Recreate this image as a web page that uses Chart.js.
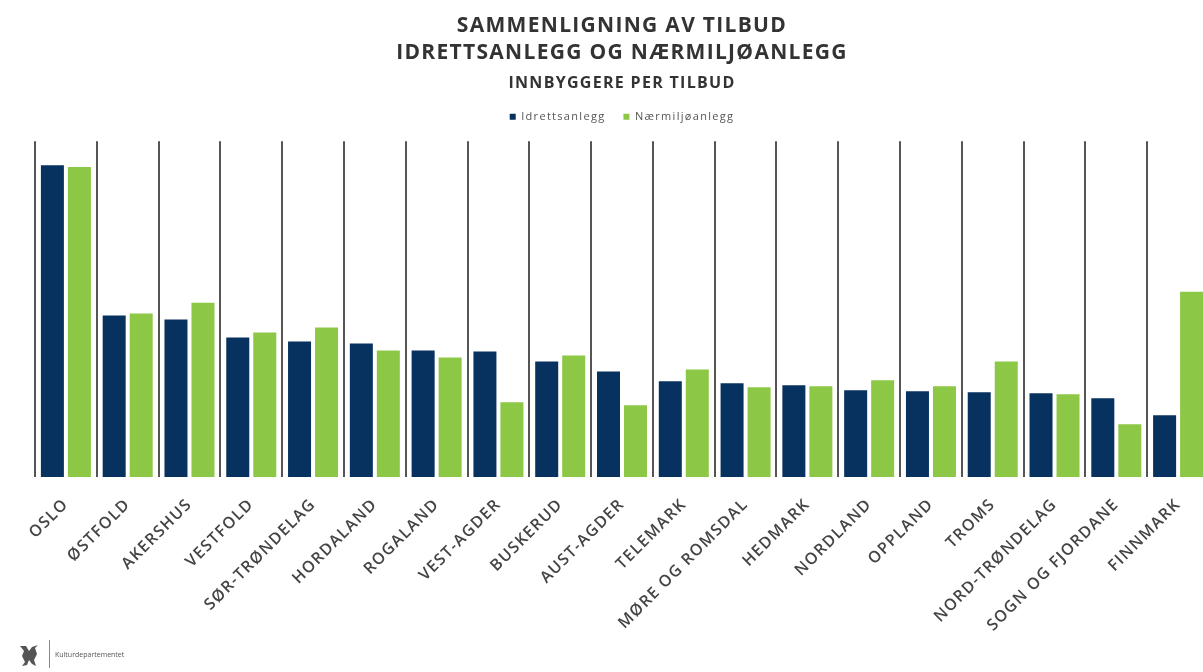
<!DOCTYPE html>
<html>
<head>
<meta charset="utf-8">
<script src="https://cdn.jsdelivr.net/npm/chart.js@4.4.1/dist/chart.umd.min.js"></script>
<style>
    html, body { margin: 0; padding: 0; overflow: hidden; background: #fff; }
    #wrap { position: absolute; left: 0; top: 0; width: 1212px; height: 672px; }
    #logo { position: absolute; left: 16px; top: 640px; height: 28px; font-family: 'Open Sans', sans-serif; }
    #logo .sep { position: absolute; left: 33px; top: 0; width: 1px; height: 28px; background: #888; }
    #logo .name { position: absolute; left: 39px; top: 10px; font-size: 7px; color: #555; white-space: nowrap; }
</style>
</head>
<body>
<div id="wrap"><canvas id="myChart"></canvas></div>
<div id="logo">
    <svg width="26" height="26" viewBox="0 0 26 26" style="position:absolute;left:0;top:2px">
        <path d="M4 4 L8 9 L6 14 L9 20 L6 24 L11 23 L13 18 L16 22 L20 24 L18 18 L21 12 L19 6 L22 3 L16 5 L13 9 L10 4 Z" fill="#555"/>
    </svg>
    <div class="sep"></div>
    <div class="name">Kulturdepartementet</div>
</div>
<script>
// fylker, sorted as in the original slide
const categories = ['OSLO', 'ØSTFOLD', 'AKERSHUS', 'VESTFOLD', 'SØR-TRØNDELAG', 'HORDALAND', 'ROGALAND',
    'VEST-AGDER', 'BUSKERUD', 'AUST-AGDER', 'TELEMARK', 'MØRE OG ROMSDAL', 'HEDMARK', 'NORDLAND',
    'OPPLAND', 'TROMS', 'NORD-TRØNDELAG', 'SOGN OG FJORDANE', 'FINNMARK'];

// innbyggere per tilbud (relative)
const idrettsanlegg = [313, 162, 158, 140, 136, 134, 127, 126, 116, 106, 96, 94, 92, 87, 86, 85, 84, 79, 62];
const naermiljoanlegg = [311, 164, 175, 145, 150, 127, 120, 75, 122, 72, 108, 90, 91, 97, 91, 116, 83, 53, 186];

const yMax = 337;

// letter spacing like the slide text
const spacingPlugin = {
    id: 'spacing',
    beforeUpdate(chart) { chart.ctx.letterSpacing = '1.3px'; },
    beforeDraw(chart) { chart.ctx.letterSpacing = '1.3px'; }
};

const ctx = document.getElementById('myChart');

const myChart = new Chart(ctx, {
    type: 'bar',
    data: {
        labels: categories,
        datasets: [
            {
                label: 'Idrettsanlegg',
                data: idrettsanlegg,
                backgroundColor: '#07315f',
                categoryPercentage: 0.874,
                barPercentage: 0.852
            },
            {
                label: 'Nærmiljøanlegg',
                data: naermiljoanlegg,
                backgroundColor: '#8cc845',
                categoryPercentage: 0.874,
                barPercentage: 0.852
            }
        ]
    },
    plugins: [spacingPlugin],
    options: {
        responsive: true,
        maintainAspectRatio: false,
        animation: false,
        layout: { padding: { left: 35, right: 3, top: 0, bottom: 0 } },
        plugins: {
            title: {
                display: true,
                text: ['SAMMENLIGNING AV TILBUD', 'IDRETTSANLEGG OG NÆRMILJØANLEGG'],
                color: '#333',
                font: { family: 'Open Sans', size: 21, weight: 'bold', lineHeight: 1.286 },
                padding: { top: 13, bottom: 7 }
            },
            subtitle: {
                display: true,
                text: 'INNBYGGERE PER TILBUD',
                color: '#333',
                font: { family: 'Open Sans', size: 16, weight: 'bold', lineHeight: 1.2 },
                padding: { top: 0, bottom: 0 }
            },
            legend: {
                labels: {
                    boxWidth: 6,
                    boxHeight: 6,
                    padding: 18,
                    color: '#555',
                    font: { family: 'Open Sans', size: 11 }
                }
            },
            tooltip: { enabled: false }
        },
        scales: {
            // empty space between the legend and the plot
            top: {
                type: 'category',
                position: 'top',
                ticks: { display: false },
                grid: { display: false },
                border: { display: false },
                afterFit: (scale) => { scale.height = 9; }
            },
            x: {
                type: 'category',
                ticks: {
                    autoSkip: false,
                    minRotation: 45,
                    maxRotation: 45,
                    padding: 18,
                    color: '#444',
                    font: { family: 'Open Sans', size: 16, weight: '600' }
                },
                grid: { offset: true, color: '#555', lineWidth: 2, drawTicks: false },
                border: { display: false },
                afterFit: (scale) => {
                    scale.height = 195;
                    scale.paddingLeft = 0;
                    scale.paddingRight = 0;
                }
            },
            y: {
                display: false,
                min: 0,
                max: yMax
            }
        }
    }
});
</script>
</body>
</html>
